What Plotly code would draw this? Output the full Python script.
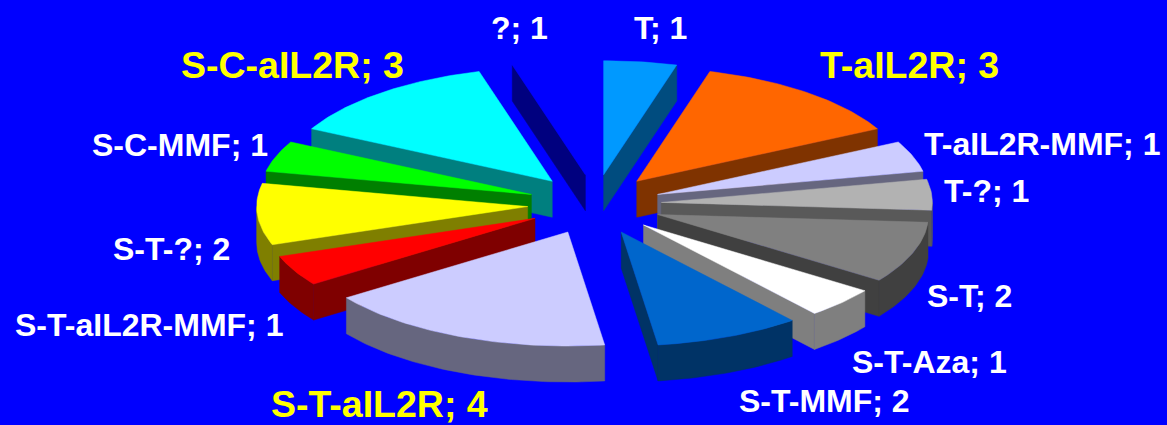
import math
import plotly.graph_objects as go

# Therapy groups, clockwise from twelve o'clock
categories = ["T", "T-aIL2R", "T-aIL2R-MMF", "T-?", "S-T", "S-T-Aza", "S-T-MMF",
              "S-T-aIL2R", "S-T-aIL2R-MMF", "S-T-?", "S-C-MMF", "S-C-aIL2R", "?"]
values = [1, 3, 1, 1, 2, 1, 2, 4, 1, 2, 1, 3, 1]
top_colors = ["#0099FF", "#FF6600", "#CCCCFF", "#B2B2B2", "#808080", "#FFFFFF", "#0066CC",
              "#CCCCFF", "#FF0000", "#FFFF00", "#00FF00", "#00FFFF", "#0000FF"]
emphasised = {"T-aIL2R", "S-C-aIL2R", "S-T-aIL2R"}

# Label anchors in page pixels
label_centres = [(660, 28), (909, 65), (1042, 144), (986, 191), (969, 296), (929, 362), (824, 401),
                 (379, 404), (149, 325), (171, 249), (180, 145), (292, 65), (519, 28)]

WIDTH, HEIGHT = 1167, 425
CX, CY = 594.5, 204.5   # centre of the pie
RX, RY = 271.0, 114.0   # radii of the tilted disc
SHIFT_X, SHIFT_Y = 67.0, 30.0  # outward shift of each slice along the disc's axes
DEPTH = 36.0            # thickness of the disc


def shade(colour):
    r, g, b = (int(colour[i:i + 2], 16) for i in (1, 3, 5))
    return f"rgb({r // 2},{g // 2},{b // 2})"


def arc(apex, start, end, step=1.0):
    n = max(2, int(abs(end - start) / step) + 1)
    pts = []
    for i in range(n + 1):
        a = math.radians(start + (end - start) * i / n)
        pts.append((apex[0] + RX * math.sin(a), apex[1] - RY * math.cos(a)))
    return pts


def polygon(fig, pts, colour):
    fig.add_trace(go.Scatter(
        x=[p[0] for p in pts] + [pts[0][0]],
        y=[p[1] for p in pts] + [pts[0][1]],
        mode="lines", fill="toself", fillcolor=colour,
        line=dict(width=0.5, color=colour), hoverinfo="skip", showlegend=False))


def wall(fig, pts, colour):
    # Extrude a run of points downwards by the disc thickness
    lowered = [(x, y + DEPTH) for x, y in reversed(pts)]
    polygon(fig, list(pts) + lowered, colour)


total = sum(values)
slices = []
running = 0
for cat, val, col in zip(categories, values, top_colors):
    start = running / total * 360
    running += val
    end = running / total * 360
    slices.append((cat, start, end, col))

fig = go.Figure()

# Paint from the back of the disc towards the viewer
for cat, start, end, col in sorted(slices, key=lambda s: -math.cos(math.radians((s[1] + s[2]) / 2))):
    mid = math.radians((start + end) / 2)
    apex = (CX + SHIFT_X * math.sin(mid), CY - SHIFT_Y * math.cos(mid))
    dark = shade(col)

    rim_start, rim_end = max(start, 90), min(end, 270)
    if math.sin(math.radians(end)) > 0.01:
        wall(fig, [apex, arc(apex, end, end)[0]], dark)
    if math.sin(math.radians(start)) < -0.01:
        wall(fig, [apex, arc(apex, start, start)[0]], dark)
    if rim_start < rim_end:
        wall(fig, arc(apex, rim_start, rim_end), dark)

    polygon(fig, [apex] + arc(apex, start, end), col)

for (cat, val), (x, y) in zip(zip(categories, values), label_centres):
    big = cat in emphasised
    fig.add_annotation(
        x=x, y=y, text=f"<b>{cat}; {val}</b>", showarrow=False,
        xanchor="center", yanchor="middle",
        font=dict(family="Liberation Sans", size=37.5 if big else 32,
                  color="#FFFF00" if big else "#FFFFFF"))

fig.update_layout(
    width=WIDTH, height=HEIGHT,
    margin=dict(l=0, r=0, t=0, b=0),
    paper_bgcolor="#0000FF", plot_bgcolor="#0000FF",
    xaxis=dict(range=[0, WIDTH], visible=False, fixedrange=True),
    yaxis=dict(range=[HEIGHT, 0], visible=False, fixedrange=True),
)
fig.write_html("out.html", config={"displayModeBar": False})
